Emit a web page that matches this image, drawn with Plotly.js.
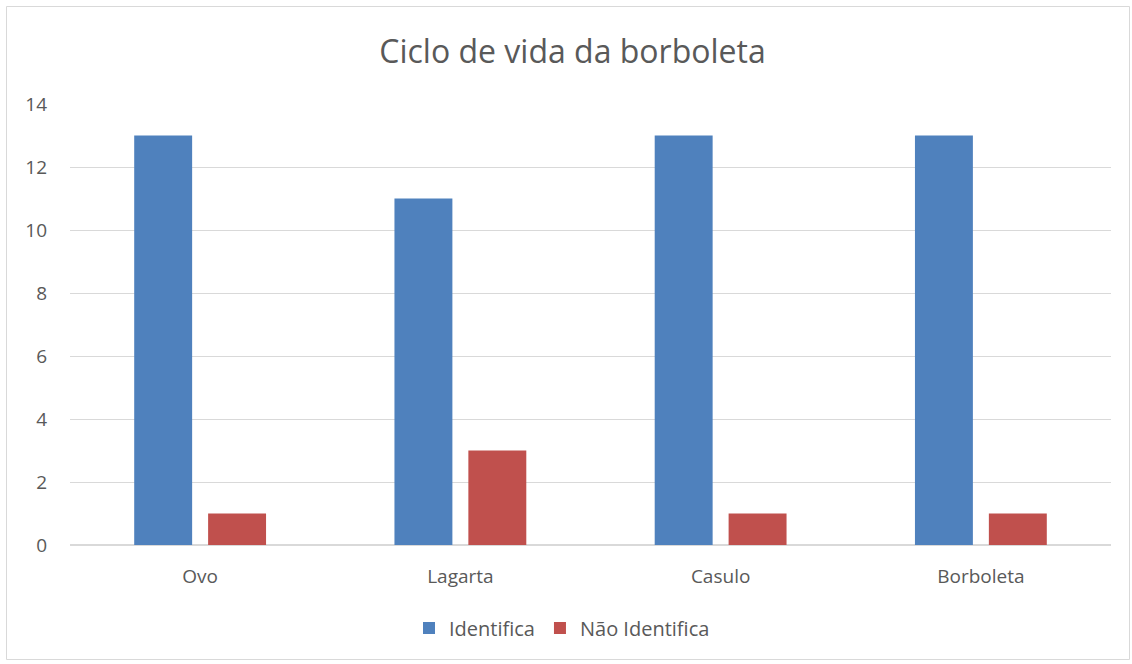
<!DOCTYPE html>
<html>
<head>
<meta charset="utf-8">
<script src="https://cdn.plot.ly/plotly-3.0.1.min.js"></script>
<style>html,body{margin:0;padding:0;background:#fff;}#chart{width:1132px;height:664px;}</style>
</head>
<body>
<div id="chart"></div>
<script>
const categories = ["Ovo", "Lagarta", "Casulo", "Borboleta"];
const identifica = [13, 11, 13, 13];
const naoIdentifica = [1, 3, 1, 1];
const seriesNames = ["Identifica", "Não Identifica"];
const yTicks = [0, 2, 4, 6, 8, 10, 12, 14];

const L = 70, R = 21, T = 104, B = 119, W = 1132, H = 664;
const pw = W - L - R, ph = H - T - B;
const px = v => (v - L) / pw;
const py = v => (H - B - v) / ph;

const traces = [
  {type: "bar", name: seriesNames[0], x: categories, y: identifica, marker: {color: "#4F81BD"}},
  {type: "bar", name: seriesNames[1], x: categories, y: naoIdentifica, marker: {color: "#C0504D"}}
];

const layout = {
  width: W, height: H,
  margin: {l: L, r: R, t: T, b: B},
  paper_bgcolor: "#fff", plot_bgcolor: "#fff",
  font: {family: "Open Sans, sans-serif", color: "#595959", size: 19},
  title: {text: "Ciclo de vida da borboleta", font: {size: 32, color: "#595959"}, x: 572.5 / W, xanchor: "center", y: 1 - 52 / H, yanchor: "middle"},
  barmode: "group",
  bargap: 0.432,
  bargroupgap: 0.216,
  xaxis: {showgrid: false, showline: false, zeroline: false, ticks: "", tickfont: {size: 19}, ticklabelstandoff: 18},
  yaxis: {range: [0, 14], tickvals: yTicks, showgrid: true, gridcolor: "#d9d9d9", gridwidth: 1, zeroline: true, zerolinecolor: "#d9d9d9", zerolinewidth: 1.5, showline: false, ticks: "", tickfont: {size: 19}, ticklabelstandoff: 22},
  showlegend: true,
  legend: {orientation: "h", x: px(562), xanchor: "center", y: py(628), yanchor: "middle", font: {size: 20}, itemwidth: 30, tracegroupgap: 0},
  shapes: [
    {type: "rect", xref: "paper", yref: "paper", x0: px(6.5), x1: px(1129.5), y0: py(659.5), y1: py(6.5), line: {color: "#d9d9d9", width: 1}, fillcolor: "rgba(0,0,0,0)", layer: "below"}
  ]
};

Plotly.newPlot("chart", traces, layout, {displayModeBar: false, staticPlot: true});
</script>
</body>
</html>
